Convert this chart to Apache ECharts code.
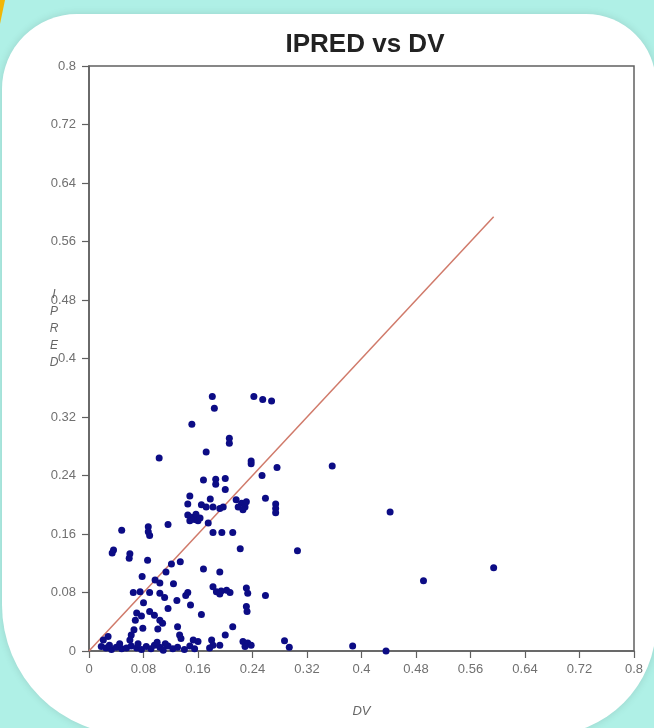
<!DOCTYPE html>
<html>
<head>
<meta charset="utf-8">
<script src="https://cdn.jsdelivr.net/npm/echarts@6/dist/echarts.min.js"></script>
<style>html,body{margin:0;padding:0;background:#aff0e6;}#c{width:654px;height:728px;}</style>
</head>
<body>
<div id="c"></div>
<script>
const titleText = 'IPRED vs DV';
const xName = 'DV';
const yName = 'IPRED';
const tickLabels = ['0','0.08','0.16','0.24','0.32','0.4','0.48','0.56','0.64','0.72','0.8'];
const dv = [
  0.181,0.184,0.242,0.255,0.268,0.151,0.206,0.206,0.172,0.103,
  0.238,0.238,0.276,0.357,0.254,0.168,0.186,0.200,0.186,0.200,
  0.148,0.145,0.178,0.165,0.172,0.182,0.192,0.197,0.216,0.224,
  0.219,0.229,0.231,0.226,0.259,0.274,0.274,0.274,0.442,
  0.145,0.150,0.155,0.160,0.148,0.157,0.163,0.175,0.182,0.195,
  0.211,0.222,0.306,0.048,0.087,0.087,0.089,0.116,0.036,0.034,
  0.060,0.059,0.086,0.121,0.134,0.113,0.168,0.192,0.078,0.097,
  0.104,0.124,0.065,0.075,0.089,0.104,0.111,0.145,0.142,0.182,
  0.187,0.194,0.202,0.207,0.192,0.231,0.233,0.259,0.080,0.129,
  0.149,0.116,0.231,0.232,0.165,0.491,0.594,
  0.070,0.077,0.068,0.089,0.096,0.104,0.108,0.079,0.066,0.101,
  0.130,0.211,0.200,0.133,0.028,0.021,0.062,0.060,0.135,
  0.018,0.025,0.033,0.040,0.048,0.055,0.062,0.070,0.077,0.084,
  0.091,0.096,0.104,0.109,0.116,0.123,0.130,0.140,0.148,0.155,
  0.030,0.045,0.072,0.100,0.112,
  0.153,0.160,0.180,0.182,0.192,0.177,0.226,0.233,0.238,0.229,
  0.287,0.294,0.387,0.436
];
const ipred = [
  0.348,0.332,0.348,0.344,0.342,0.310,0.291,0.284,0.272,0.264,
  0.260,0.256,0.251,0.253,0.240,0.234,0.235,0.236,0.228,0.221,
  0.212,0.201,0.208,0.200,0.197,0.197,0.195,0.197,0.207,0.202,
  0.197,0.197,0.204,0.193,0.209,0.201,0.195,0.189,0.190,
  0.186,0.183,0.180,0.178,0.178,0.187,0.182,0.175,0.162,0.162,
  0.162,0.140,0.137,0.165,0.170,0.163,0.158,0.173,0.138,0.134,
  0.133,0.127,0.124,0.119,0.122,0.108,0.112,0.108,0.102,0.097,
  0.093,0.092,0.080,0.081,0.080,0.079,0.073,0.080,0.076,0.088,
  0.081,0.082,0.083,0.080,0.078,0.086,0.079,0.076,0.066,0.069,
  0.063,0.058,0.061,0.054,0.050,0.096,0.114,
  0.052,0.048,0.042,0.054,0.049,0.042,0.038,0.031,0.029,0.030,
  0.033,0.033,0.022,0.022,0.020,0.015,0.022,0.015,0.017,
  0.006,0.004,0.002,0.005,0.003,0.004,0.007,0.004,0.002,0.006,
  0.003,0.008,0.005,0.001,0.007,0.003,0.005,0.002,0.007,0.003,
  0.008,0.010,0.010,0.012,0.010,
  0.015,0.013,0.015,0.008,0.008,0.004,0.013,0.011,0.008,0.006,
  0.014,0.005,0.007,0.000
];
const lineStart = [0, 0];
const lineEnd = [0.594, 0.594];

const points = dv.map((x, i) => [x, ipred[i]]);
const chart = echarts.init(document.getElementById('c'), null, {renderer: 'canvas'});
const labelFmt = v => {
  const idx = Math.round(v / 0.08);
  return tickLabels[idx] !== undefined ? tickLabels[idx] : String(v);
};
const axisCommon = {
  type: 'value', min: 0, max: 0.8, interval: 0.08,
  axisLine: {show: true, lineStyle: {color: '#606060', width: 1.5}},
  axisTick: {show: true, length: 7, lineStyle: {color: '#606060', width: 1.2}},
  splitLine: {show: false},
  axisLabel: {color: '#707070', fontSize: 13, fontFamily: 'Liberation Sans, Arial, sans-serif', formatter: labelFmt}
};
chart.setOption({
  backgroundColor: '#aff0e6',
  animation: false,
  title: {
    text: titleText, left: 360, top: 27, textAlign: 'center',
    textStyle: {fontSize: 26, fontWeight: 'bold', color: '#222', fontFamily: 'Liberation Sans, Arial, sans-serif'}
  },
  graphic: [
    {type: 'rect', z: -10, shape: {x: 2, y: 14, width: 654, height: 721, r: [75, 70, 110, 130]},
     style: {fill: '#ffffff', shadowBlur: 8, shadowColor: 'rgba(0,0,0,0.12)'}},
    {type: 'polygon', z: -9, shape: {points: [[0,0],[5,0],[0,24]]}, style: {fill: '#f2b705'}},
    {type: 'text', z: 10, x: 54, y: 286,
     style: {text: yName.split('').join('\n'), fill: '#666', font: 'italic 12px Liberation Sans, Arial, sans-serif', lineHeight: 17, align: 'center', textAlign: 'center'}}
  ],
  grid: {left: 89, right: 20, top: 66, bottom: 77, show: true, borderColor: '#606060', borderWidth: 1.5, backgroundColor: 'transparent'},
  xAxis: Object.assign({}, axisCommon, {
    name: xName, nameLocation: 'middle', nameGap: 54,
    nameTextStyle: {color: '#666', fontSize: 13, fontStyle: 'italic', fontFamily: 'Liberation Sans, Arial, sans-serif'},
    axisLabel: Object.assign({}, axisCommon.axisLabel, {margin: 12})
  }),
  yAxis: Object.assign({}, axisCommon, {
    axisLabel: Object.assign({}, axisCommon.axisLabel, {margin: 13})
  }),
  series: [
    {type: 'line', data: [lineStart, lineEnd], symbol: 'none', z: 1,
     lineStyle: {color: '#d07a6a', width: 1.5}},
    {type: 'scatter', data: points, symbolSize: 7, z: 3,
     itemStyle: {color: '#0c0c85', opacity: 1}}
  ]
});
</script>
</body>
</html>
